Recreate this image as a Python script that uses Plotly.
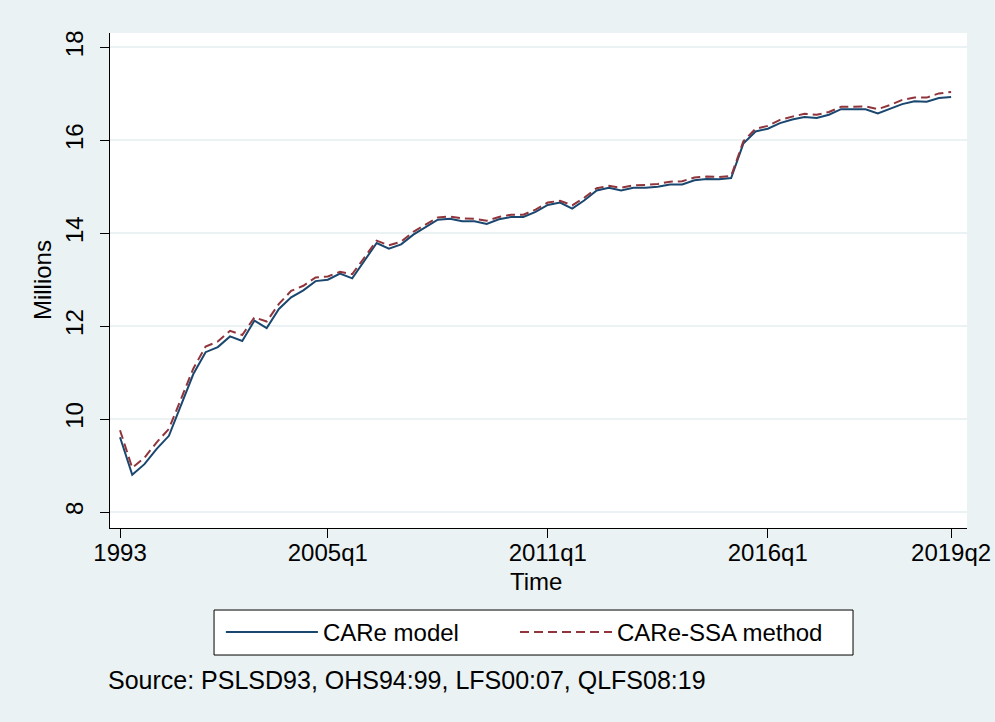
import plotly.graph_objects as go

# observation index: 1993-1999 annual, 2000-2007 half-yearly, 2008q1-2019q2 quarterly
obs = list(range(69))

care_model = [9.61, 8.80, 9.03, 9.36, 9.64, 10.32, 10.97, 11.44, 11.55, 11.78,
              11.68, 12.12, 11.96, 12.37, 12.62, 12.77, 12.97, 13.00, 13.13, 13.03,
              13.41, 13.79, 13.67, 13.76, 13.97, 14.13, 14.29, 14.31, 14.26, 14.26,
              14.20, 14.30, 14.35, 14.35, 14.46, 14.61, 14.66, 14.53, 14.71, 14.92,
              14.98, 14.92, 14.98, 14.98, 15.00, 15.05, 15.05, 15.14, 15.17, 15.16,
              15.19, 15.93, 16.19, 16.25, 16.37, 16.45, 16.50, 16.48, 16.55, 16.67,
              16.67, 16.67, 16.58, 16.68, 16.78, 16.84, 16.83, 16.91, 16.93]

care_ssa = [9.76, 8.95, 9.17, 9.50, 9.79, 10.44, 11.09, 11.56, 11.67, 11.90,
            11.81, 12.19, 12.10, 12.48, 12.76, 12.87, 13.05, 13.07, 13.17, 13.12,
            13.47, 13.84, 13.74, 13.82, 14.03, 14.19, 14.34, 14.36, 14.32, 14.31,
            14.27, 14.35, 14.40, 14.40, 14.51, 14.66, 14.70, 14.60, 14.77, 14.97,
            15.02, 14.98, 15.03, 15.04, 15.06, 15.11, 15.12, 15.20, 15.22, 15.21,
            15.23, 15.98, 16.25, 16.31, 16.44, 16.51, 16.57, 16.55, 16.61, 16.72,
            16.72, 16.73, 16.67, 16.76, 16.87, 16.92, 16.92, 17.01, 17.04]

tick_pos = [0, 17, 35, 53, 68]
tick_text = ["1993", "2005q1", "2011q1", "2016q1", "2019q2"]
y_ticks = [8, 10, 12, 14, 16, 18]

bg = "#eaf2f3"
fnt = "Liberation Sans, Arial, sans-serif"

fig = go.Figure()
fig.add_trace(go.Scatter(x=obs, y=care_model, mode="lines", name="CARe model",
                         line=dict(color="#1a476f", width=2), legend="legend"))
fig.add_trace(go.Scatter(x=obs, y=care_ssa, mode="lines", name="CARe-SSA method",
                         line=dict(color="#90353b", width=2, dash="9px,5px"),
                         legend="legend2"))

leg_common = dict(orientation="h", xref="container", yref="container",
                  xanchor="left", y=0.124, yanchor="middle",
                  bgcolor="rgba(0,0,0,0)", borderwidth=0,
                  font=dict(size=24), itemwidth=92)

fig.update_layout(
    width=995, height=722,
    paper_bgcolor=bg, plot_bgcolor="white",
    margin=dict(l=110, r=28, t=33, b=194),
    font=dict(family=fnt, size=24, color="black"),
    showlegend=True,
    legend=dict(x=0.222, **leg_common),
    legend2=dict(x=0.5176, **leg_common),
)
fig.layout.xaxis.range = [-0.82, 69.3]
fig.layout.xaxis.tickvals = tick_pos
fig.layout.xaxis.ticktext = tick_text
fig.layout.xaxis.ticklabelstandoff = -6
fig.layout.xaxis.showgrid = False
fig.layout.xaxis.showline = True
fig.layout.xaxis.linecolor = "black"
fig.layout.xaxis.ticks = "outside"
fig.layout.xaxis.ticklen = 9
fig.layout.xaxis.tickcolor = "black"
fig.layout.xaxis.zeroline = False
fig.layout.xaxis.automargin = False
fig.layout.xaxis.fixedrange = True

fig.layout.yaxis.range = [7.656, 18.31]
fig.layout.yaxis.tickvals = y_ticks
fig.layout.yaxis.tickangle = -90
fig.layout.yaxis.ticklabelstandoff = 7
fig.layout.yaxis.showgrid = True
fig.layout.yaxis.gridcolor = bg
fig.layout.yaxis.gridwidth = 2
fig.layout.yaxis.showline = True
fig.layout.yaxis.linecolor = "black"
fig.layout.yaxis.ticks = "outside"
fig.layout.yaxis.ticklen = 9
fig.layout.yaxis.tickcolor = "black"
fig.layout.yaxis.zeroline = False
fig.layout.yaxis.automargin = False
fig.layout.yaxis.fixedrange = True

# legend frame (white box with black border)
fig.add_shape(type="rect", xref="paper", yref="paper",
              x0=0.1214, x1=0.8670, y0=-0.2566, y1=-0.1657,
              line=dict(color="black", width=1), fillcolor="white", layer="below")

# axis titles and note placed like the Stata layout
fig.add_annotation(text="Time", xref="paper", yref="paper", x=0.4965, y=-0.108,
                   xanchor="center", yanchor="middle", showarrow=False)
fig.add_annotation(text="Millions", xref="paper", yref="paper", x=-0.0793, y=0.501,
                   xanchor="center", yanchor="middle", showarrow=False, textangle=-90)
fig.add_annotation(text="Source: PSLSD93, OHS94:99, LFS00:07, QLFS08:19",
                   xref="paper", yref="paper", x=-0.005, y=-0.307,
                   xanchor="left", yanchor="middle", showarrow=False,
                   font=dict(size=25))

config = dict(displayModeBar=False, scrollZoom=False)
fig.write_html("out.html", config=config,
               post_script="document.body.style.margin='0';")
